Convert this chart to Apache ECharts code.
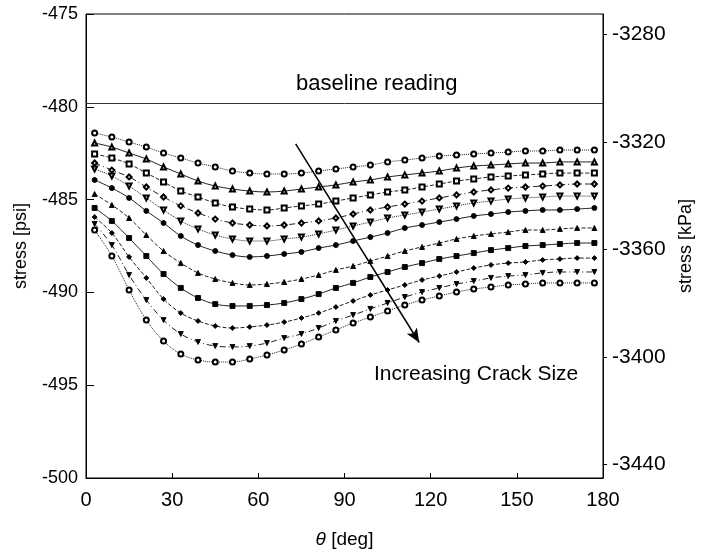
<!DOCTYPE html>
<html>
<head>
<meta charset="utf-8">
<script src="https://cdn.jsdelivr.net/npm/echarts@6/dist/echarts.min.js"></script>
<style>
  html, body { margin: 0; padding: 0; background: #fff; }
  #chart { width: 703px; height: 555px; }
</style>
</head>
<body>
<div id="chart"></div>
<script>
// angle of each measurement point [deg]
var theta = [3, 9, 15, 21, 27, 33, 39, 45, 51, 57, 63, 69, 75, 81, 87, 93, 99, 105, 111, 117, 123, 129, 135, 141, 147, 153, 159, 165, 171, 177];

// stress [psi], one array per crack size (smallest first)
var crack1 = [-481.41, -481.63, -481.90, -482.17, -482.49, -482.76, -483.03, -483.24, -483.46, -483.57, -483.62, -483.62, -483.57, -483.46, -483.35, -483.24, -483.14, -482.97, -482.87, -482.76, -482.65, -482.60, -482.54, -482.49, -482.44, -482.38, -482.38, -482.33, -482.33, -482.33];
var crack2 = [-481.95, -482.17, -482.49, -482.81, -483.24, -483.62, -484.00, -484.27, -484.43, -484.54, -484.59, -484.54, -484.43, -484.32, -484.21, -484.05, -483.94, -483.78, -483.67, -483.57, -483.46, -483.30, -483.19, -483.14, -483.08, -483.03, -483.03, -482.97, -482.97, -482.97];
var crack3 = [-482.54, -482.76, -483.08, -483.57, -484.05, -484.54, -484.86, -485.18, -485.40, -485.51, -485.56, -485.45, -485.34, -485.24, -485.08, -484.91, -484.75, -484.59, -484.48, -484.32, -484.16, -484.00, -483.89, -483.78, -483.73, -483.67, -483.62, -483.57, -483.57, -483.57];
var crack4 = [-483.03, -483.41, -483.78, -484.32, -484.86, -485.34, -485.72, -486.05, -486.26, -486.37, -486.42, -486.37, -486.26, -486.15, -485.99, -485.78, -485.56, -485.40, -485.24, -485.08, -484.91, -484.75, -484.59, -484.48, -484.38, -484.32, -484.27, -484.21, -484.16, -484.16];
var crack5 = [-483.35, -483.73, -484.27, -484.91, -485.56, -486.15, -486.58, -486.91, -487.12, -487.23, -487.23, -487.12, -487.02, -486.85, -486.64, -486.42, -486.21, -485.99, -485.83, -485.67, -485.51, -485.34, -485.18, -485.08, -484.97, -484.91, -484.86, -484.81, -484.81, -484.81];
var crack6 = [-483.94, -484.38, -484.91, -485.61, -486.26, -486.96, -487.45, -487.77, -487.99, -488.09, -488.04, -487.93, -487.82, -487.61, -487.45, -487.23, -487.02, -486.80, -486.53, -486.37, -486.21, -486.05, -485.88, -485.78, -485.67, -485.61, -485.56, -485.56, -485.51, -485.45];
var crack7 = [-484.70, -485.29, -485.99, -486.91, -487.77, -488.42, -488.95, -489.28, -489.49, -489.60, -489.55, -489.44, -489.28, -489.06, -488.79, -488.58, -488.31, -488.04, -487.77, -487.55, -487.34, -487.12, -486.96, -486.85, -486.75, -486.64, -486.64, -486.58, -486.53, -486.53];
var crack8 = [-485.45, -486.15, -487.07, -488.04, -489.01, -489.76, -490.30, -490.63, -490.73, -490.73, -490.68, -490.57, -490.36, -490.09, -489.76, -489.49, -489.17, -488.90, -488.63, -488.42, -488.20, -488.04, -487.88, -487.72, -487.61, -487.50, -487.45, -487.39, -487.34, -487.34];
var crack9 = [-485.94, -486.80, -488.09, -489.22, -490.36, -491.11, -491.54, -491.81, -491.92, -491.86, -491.76, -491.60, -491.38, -491.11, -490.79, -490.46, -490.14, -489.87, -489.60, -489.33, -489.12, -488.90, -488.69, -488.52, -488.42, -488.36, -488.25, -488.20, -488.15, -488.15];
var crack10 = [-486.31, -487.45, -489.06, -490.41, -491.49, -492.24, -492.67, -492.89, -492.94, -492.89, -492.73, -492.46, -492.24, -491.92, -491.54, -491.22, -490.89, -490.57, -490.25, -489.98, -489.76, -489.55, -489.39, -489.22, -489.12, -489.06, -488.95, -488.90, -488.90, -488.90];
var crack11 = [-486.64, -488.04, -489.87, -491.49, -492.62, -493.32, -493.64, -493.75, -493.75, -493.59, -493.37, -493.10, -492.78, -492.40, -492.03, -491.65, -491.33, -491.00, -490.68, -490.41, -490.19, -489.98, -489.82, -489.71, -489.60, -489.55, -489.49, -489.49, -489.49, -489.49];

var baseline = -479.8;
var kpaTicks = [-3440, -3400, -3360, -3320, -3280];
// arrow from / to, in [deg, psi]
var arrowFrom = [73, -482.0];
var arrowTo = [116, -492.7];

var font = '"Liberation Sans", Arial, Helvetica, sans-serif';
var dashDot = [6, 3, 1, 3];

var curves = [
    {data: crack1, symbol: 'emptyCircle', line: 'dotted'},
    {data: crack2, symbol: 'emptyTriangle', line: 'solid'},
    {data: crack3, symbol: 'emptyRect', line: 'dashed'},
    {data: crack4, symbol: 'emptyDiamond', line: dashDot},
    {data: crack5, symbol: 'emptyTriangle', rotate: 180, line: 'dotted'},
    {data: crack6, symbol: 'circle', line: 'solid'},
    {data: crack7, symbol: 'triangle', line: 'dashed'},
    {data: crack8, symbol: 'rect', line: 'solid'},
    {data: crack9, symbol: 'diamond', line: 'dashed'},
    {data: crack10, symbol: 'triangle', rotate: 180, line: dashDot},
    {data: crack11, symbol: 'emptyCircle', line: 'dotted'}
];

var series = curves.map(function (c, i) {
    return {
        name: 'crack' + (i + 1),
        type: 'line',
        smooth: 0.35,
        data: c.data.map(function (v, j) { return [theta[j], v]; }),
        symbol: c.symbol,
        symbolSize: 5,
        symbolRotate: c.rotate || 0,
        showAllSymbol: true,
        itemStyle: {color: '#000', borderColor: '#000', borderWidth: 0.9},
        lineStyle: {color: '#222', width: 1, type: c.line},
        emphasis: {disabled: true},
        z: 3
    };
});

// baseline reading
series[0].markLine = {
    silent: true,
    symbol: 'none',
    label: {show: false},
    lineStyle: {color: '#333', width: 1, type: 'solid'},
    data: [{yAxis: baseline}]
};

// "increasing crack size" arrow
series[1].markLine = {
    silent: true,
    symbol: ['none', 'arrow'],
    symbolSize: [9, 14],
    label: {show: false},
    lineStyle: {color: '#000', width: 1.5, type: 'solid'},
    data: [[{coord: arrowFrom}, {coord: arrowTo}]]
};

var option = {
    animation: false,
    backgroundColor: '#fff',
    textStyle: {fontFamily: font, color: '#000'},
    grid: {
        left: 86,
        right: 94,
        top: 14,
        bottom: 77,
        show: true,
        borderColor: '#000',
        borderWidth: 1
    },
    xAxis: {
        type: 'value',
        min: 0,
        max: 180,
        interval: 30,
        name: '{i|θ} [deg]',
        nameLocation: 'middle',
        nameGap: 52,
        nameTextStyle: {
            fontSize: 19, color: '#000', fontFamily: font,
            rich: {i: {fontStyle: 'italic', fontSize: 19, fontFamily: font}}
        },
        axisLine: {lineStyle: {color: '#000', width: 1}},
        axisTick: {inside: true, length: 5, lineStyle: {color: '#000'}},
        axisLabel: {fontSize: 20, color: '#000', margin: 12, fontFamily: font},
        splitLine: {show: false}
    },
    yAxis: [{
        type: 'value',
        min: -500,
        max: -475,
        interval: 5,
        position: 'left',
        name: 'stress [psi]',
        nameLocation: 'middle',
        nameRotate: 90,
        nameGap: 56,
        nameTextStyle: {fontSize: 18, color: '#000', fontFamily: font},
        axisLine: {show: true, lineStyle: {color: '#000', width: 1}},
        axisTick: {inside: true, length: 8, lineStyle: {color: '#000'}},
        axisLabel: {fontSize: 18, color: '#000', margin: 8, fontFamily: font},
        splitLine: {show: false}
    }, {
        type: 'value',
        min: -3445,
        max: -3272.5,
        position: 'right',
        alignTicks: false,
        name: 'stress [kPa]',
        nameLocation: 'middle',
        nameRotate: 90,
        nameGap: 74,
        nameTextStyle: {fontSize: 18, color: '#000', fontFamily: font},
        axisLine: {show: true, lineStyle: {color: '#000', width: 1}},
        axisTick: {inside: false, length: 4, lineStyle: {color: '#000'}, customValues: kpaTicks},
        axisLabel: {
            fontSize: 21, color: '#000', margin: 9, fontFamily: font, customValues: kpaTicks,
            formatter: function (v) { return String(v); }
        },
        splitLine: {show: false}
    }],
    graphic: [{
        type: 'text',
        left: 296,
        top: 73,
        style: {text: 'baseline reading', fontSize: 22, fontFamily: font, fill: '#000'}
    }, {
        type: 'text',
        left: 374,
        top: 364,
        style: {text: 'Increasing Crack Size', fontSize: 21, fontFamily: font, fill: '#000'}
    }],
    series: series
};

var chart = echarts.init(document.getElementById('chart'));
chart.setOption(option);
</script>
</body>
</html>
